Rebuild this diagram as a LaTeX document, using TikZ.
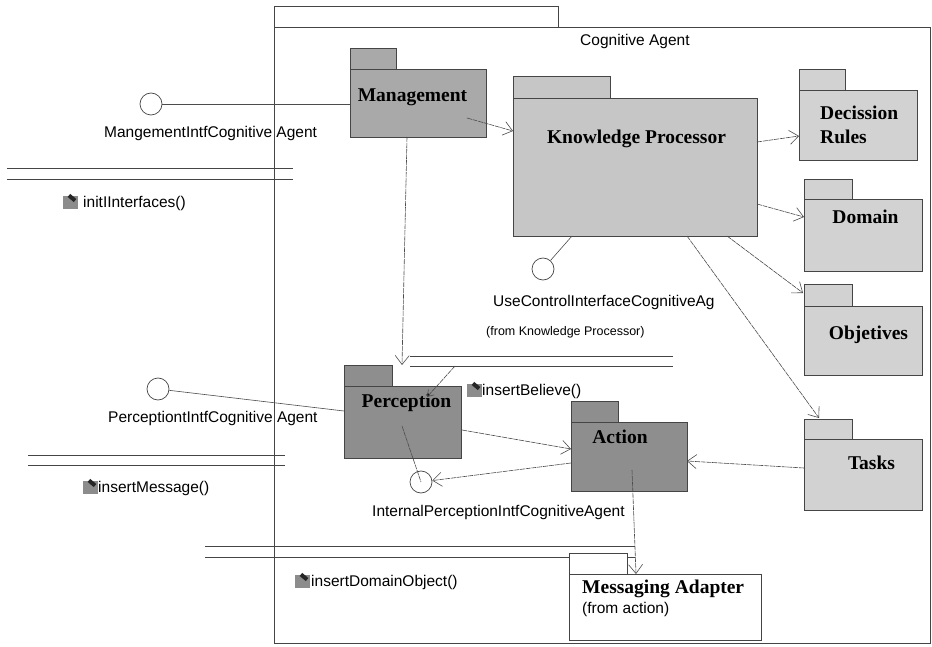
\documentclass[tikz,border=0pt]{standalone}
\usepackage{fontspec}
\setmainfont{Liberation Serif}
\setsansfont{Liberation Sans}
\usetikzlibrary{arrows.meta,calc}
\definecolor{gmg}{HTML}{A9A9A9}
\definecolor{gkp}{HTML}{C6C6C6}
\definecolor{grt}{HTML}{D2D2D2}
\definecolor{gpa}{HTML}{8E8E8E}
\definecolor{lnc}{HTML}{454545}
\newcommand\umlpkg[8]{%
  \draw[pkgline, fill=#2] (#3,#4) rectangle (#5,#6);
  \node[pkgbody, fill=#2, minimum width={(#7)-(#3)}, minimum height={(#8)-(#6)}] (#1) at (#3,#6) {};}
\newcommand\opicon[2]{%
  \fill[black!45] (#1,#2-7) rectangle (#1+15,#2+6);
  \fill[black!85, rotate around={-40:(#1+9,#2-5)}] (#1+5,#2-7) rectangle (#1+13,#2-3);}
\begin{document}
\begin{tikzpicture}[x=1pt,y=-1pt,
  pkgline/.style={draw=lnc, line width=0.7pt},
  pkgbody/.style={pkgline, anchor=north west, inner sep=0pt, outer sep=0pt},
  plabel/.style={font={\fontsize{19.5}{22}\selectfont\bfseries}, inner sep=0pt, align=left},
  slabel/.style={font={\sffamily\fontsize{15.5}{18}\selectfont}, inner sep=0pt, anchor=west},
  small/.style={font={\sffamily\fontsize{12.5}{15}\selectfont}, inner sep=0pt, anchor=west},
  iface/.style={circle, draw=lnc, line width=0.7pt, minimum size=22pt, inner sep=0pt},
  conn/.style={draw=black!70, line width=0.6pt},
  dep/.style={conn, dash pattern=on 5pt off 0.8pt},
  arr/.style={dep, -{Straight Barb[length=9pt,width=14pt]}},
  sepline/.style={draw=lnc, line width=0.7pt}]
\useasboundingbox (0,0) rectangle (932,647);
\fill[white] (0,0) rectangle (932,647);

% Cognitive Agent frame
\draw[pkgline] (274,6) rectangle (558,27);
\node[pkgbody, minimum width=656pt, minimum height=616pt] (frame) at (274,27) {};
\node[slabel] (ca) at (580,41) {Cognitive Agent};

% compartment separator lines and operations
\draw[sepline] (7,168) -- (293,168) (7,179) -- (293,179);
\opicon{63}{203}
\node[slabel] (op1) at (83,203) {initIInterfaces()};

\draw[sepline] (28,455) -- (285,455) (28,465) -- (285,465);
\opicon{83}{488}
\node[slabel] (op2) at (98,488) {insertMessage()};

\draw[sepline] (410,356) -- (673,356) (410,366) -- (673,366);
\opicon{467}{391}
\node[slabel] (op3) at (482,391) {insertBelieve()};

\draw[sepline] (205,546) -- (635,546) (205,557) -- (635,557);
\opicon{295}{582}
\node[slabel] (op4) at (311,582) {insertDomainObject()};

% packages
\umlpkg{mg}{gmg}{350}{48}{396}{69}{486}{137}
\umlpkg{kp}{gkp}{513}{76}{610}{98}{757}{236}
\umlpkg{dr}{grt}{799}{69}{845}{90}{917}{160}
\umlpkg{dm}{grt}{804}{179}{852}{199}{922}{271}
\umlpkg{ob}{grt}{804}{284}{852}{306}{922}{375}
\umlpkg{tk}{grt}{804}{419}{852}{439}{922}{510}
\umlpkg{pc}{gpa}{344}{365}{392}{386}{461}{458}
\umlpkg{ac}{gpa}{571}{401}{618}{422}{687}{491}
\umlpkg{ma}{white}{569}{553}{627}{574}{761}{640}

\node[plabel] (mgl) at (412.5,97) {Management};
\node[plabel] (kpl) at (636.5,139) {Knowledge Processor};
\node[plabel, anchor=west] (drl) at (820,125) {Decission\\[2pt]Rules};
\node[plabel] (dml) at (865.5,217) {Domain};
\node[plabel] (obl) at (868.5,335) {Objetives};
\node[plabel] (tkl) at (871.5,463) {Tasks};
\node[plabel] (pcl) at (406.5,403) {Perception};
\node[plabel] (acl) at (620,437) {Action};
\node[plabel, anchor=base west] (mal) at (582,593) {Messaging Adapter};
\node[slabel, anchor=base west] (maf) at (582,613) {(from action)};

% interfaces
\node[iface] (mi) at (151,104) {};
\node[slabel] (mil) at (104,133) {MangementIntfCognitive Agent};
\node[iface] (pi) at (158,389) {};
\node[slabel] (pil) at (108,418) {PerceptiontIntfCognitive Agent};
\node[iface] (ui) at (543,269) {};
\node[slabel] (uil) at (493,302) {UseControlInterfaceCognitiveAg};
\node[small] (uif) at (486,332) {(from Knowledge Processor)};
\node[iface] (ii) at (421,482) {};
\node[slabel] (iil) at (372,512) {InternalPerceptionIntfCognitiveAgent};

% interface links
\draw[conn] (mi) -- (mi -| mg.west);
\draw[conn] (pi) -- ($(pc.west)+(0,-11)$);
\draw[conn] (ui) -- ($(kp.south west)+(59,0)$);
\draw[dep] ($(pc.north west)+(58,40)$) -- (ii.center);
\draw[arr] ($(ac.north west)+(0,41)$) -- (ii);

% dependencies
\draw[arr] ($(mg.north west)+(117,49)$) -- ($(kp.north west)+(0,33)$);
\coordinate (pctop) at ($(pc.north west)+(58,-21)$);
\draw[arr] ($(mg.south west)+(57,0)$) -- (pctop);
\draw[arr] ($(kp.north east)+(0,44)$) -- ($(dr.north west)+(0,46)$);
\draw[arr] ($(kp.north east)+(0,106)$) -- ($(dm.north west)+(0,18)$);
\draw[arr] ($(kp.south west)+(214,0)$) -- ($(ob.north west)+(-1,-13)$);
\draw[arr] ($(kp.south west)+(174,0)$) -- ($(tk.north west)+(15,-21)$);
\draw[arr] ($(tk.north west)+(0,29)$) -- ($(ac.north east)+(0,39)$);
\draw[arr] ($(pc.north east)+(1,44)$) -- ($(ac.north west)+(0,27)$);
\draw[arr] ($(ac.north west)+(61,48)$) -- ($(ma.north west)+(67,0)$);
\coordinate (sepend) at (455,366);
\draw[dep, -{Straight Barb[length=6pt,width=8pt]}] (sepend) -- ($(pc.north west)+(83,11)$);
\end{tikzpicture}
\end{document}
